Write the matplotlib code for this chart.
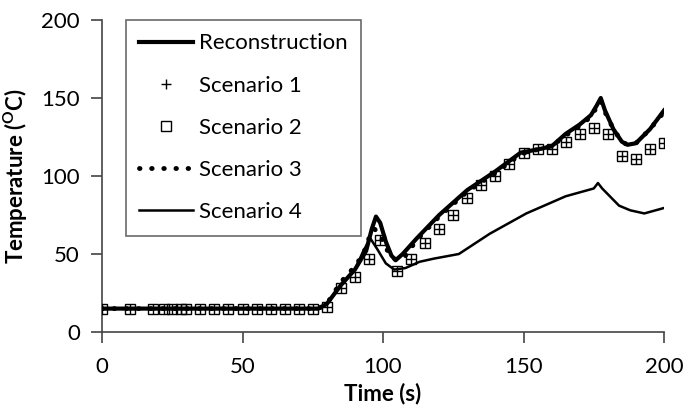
import numpy as np
import matplotlib
matplotlib.use("Agg")
import matplotlib.pyplot as plt

plt.rcParams['font.family'] = ['Lato', 'DejaVu Sans']
plt.rcParams['mathtext.fontset'] = 'custom'
plt.rcParams['mathtext.rm'] = 'Lato'
plt.rcParams['mathtext.bf'] = 'Lato:bold'

# Reconstruction (time s, temperature C)
t_rec = [0, 20, 40, 60, 77, 80, 85, 90, 94, 96, 97.5, 99, 101, 103, 104.5, 107, 112, 120, 130,
         140, 149, 155, 160, 165, 170, 174, 176, 177.5, 179, 182, 185, 187, 190, 195, 200]
T_rec = [15, 15, 15, 15, 15, 18, 30, 40, 52, 66, 74, 70, 58, 49, 46, 50, 60, 75, 91,
         103, 115, 117, 119, 127, 133, 139, 145, 150, 142, 130, 122, 120, 121, 130, 142]

# Scenario 1 / 2 sampled points
t_pts = [0, 10, 18, 22, 25, 28, 30, 35, 40, 45, 50, 55, 60, 65, 70, 75, 80, 85, 90, 95, 99,
         105, 110, 115, 120, 125, 130, 135, 140, 145, 150, 155, 160, 165, 170, 175, 180,
         185, 190, 195, 200]
T_s1 = [15, 15, 15, 15, 15, 15, 15, 15, 15, 15, 15, 15, 15, 15, 15, 15, 16, 28, 35, 47, 59,
        39, 47, 57, 66, 75, 86, 94, 100, 108, 115, 117, 117, 122, 127, 131, 127,
        113, 111, 117, 121]
T_s2 = T_s1

# Scenario 3
t_s3 = [0, 20, 40, 60, 77, 80, 85, 90, 93, 95, 97, 99, 101, 103, 105, 108, 112, 120, 130,
        140, 149, 155, 160, 165, 170, 174, 176, 177.5, 179, 182, 185, 187, 190, 195, 200]
T_s3 = [15, 15, 15, 15, 15, 18, 32, 42, 50, 60, 66, 62, 54, 48, 46, 49, 59, 74, 90,
        102, 114, 117, 119, 126, 132, 138, 144, 148, 141, 130, 122, 120, 121, 130, 141]

# Scenario 4
t_s4 = [0, 20, 40, 60, 77, 80, 85, 90, 93, 95.5, 98, 101, 104, 108, 113, 118, 127, 138,
        151, 165, 175, 176.5, 178, 184, 188, 193, 197, 200]
T_s4 = [15, 15, 15, 15, 15, 18, 30, 40, 52, 60, 53, 44, 40, 41, 45, 47, 50, 63,
        76, 87, 92, 95.5, 92, 81, 78, 76, 78, 79.5]

fig = plt.figure(figsize=(6.84, 4.12), dpi=100)
ax = fig.add_axes([102 / 684, 1 - 332 / 412, 562 / 684, 312 / 412])

ax.plot(t_rec, T_rec, color='black', lw=3, label='Reconstruction', zorder=4)
ax.plot(t_pts, T_s1, ls='none', marker='+', ms=6.5, mew=1, color='black', label='Scenario 1', zorder=5)
ax.plot(t_pts, T_s2, ls='none', marker='s', ms=6.5, mew=1, mfc='none', color='black', label='Scenario 2', zorder=5)
ax.plot(t_s3, T_s3, color='black', lw=3.5, ls=(0, (0.1, 2.4)), dash_capstyle='round',
        label='Scenario 3', zorder=3)
ax.plot(t_s4, T_s4, color='black', lw=1.8, label='Scenario 4', zorder=3)

ax.set_xlim(0, 200)
ax.set_ylim(0, 200)
ax.set_xticks([0, 50, 100, 150, 200])
ax.set_yticks([0, 50, 100, 150, 200])
ax.spines['top'].set_visible(False)
ax.spines['right'].set_visible(False)
for s in ['left', 'bottom']:
    ax.spines[s].set_color('#444444')
    ax.spines[s].set_linewidth(1.2)
ax.tick_params(direction='out', length=8, width=1.2, color='#444444', labelsize=16)
ax.tick_params(axis='x', pad=10)
ax.tick_params(axis='y', pad=8)
ax.set_xlabel('Time (s)', fontsize=16, fontweight='bold', labelpad=4)
ax.set_ylabel(r'Temperature ($\mathbf{^{O}}$C)', fontsize=16, fontweight='bold', labelpad=8)

leg = ax.legend(loc='upper left', bbox_to_anchor=(24 / 562, 1.0), borderaxespad=0, fontsize=16,
                frameon=True, fancybox=False, edgecolor='#444444', handlelength=2.4,
                labelspacing=1.0, borderpad=0.6, handletextpad=0.3)
leg.get_frame().set_linewidth(1.2)

fig.savefig('out.png', dpi=100)
